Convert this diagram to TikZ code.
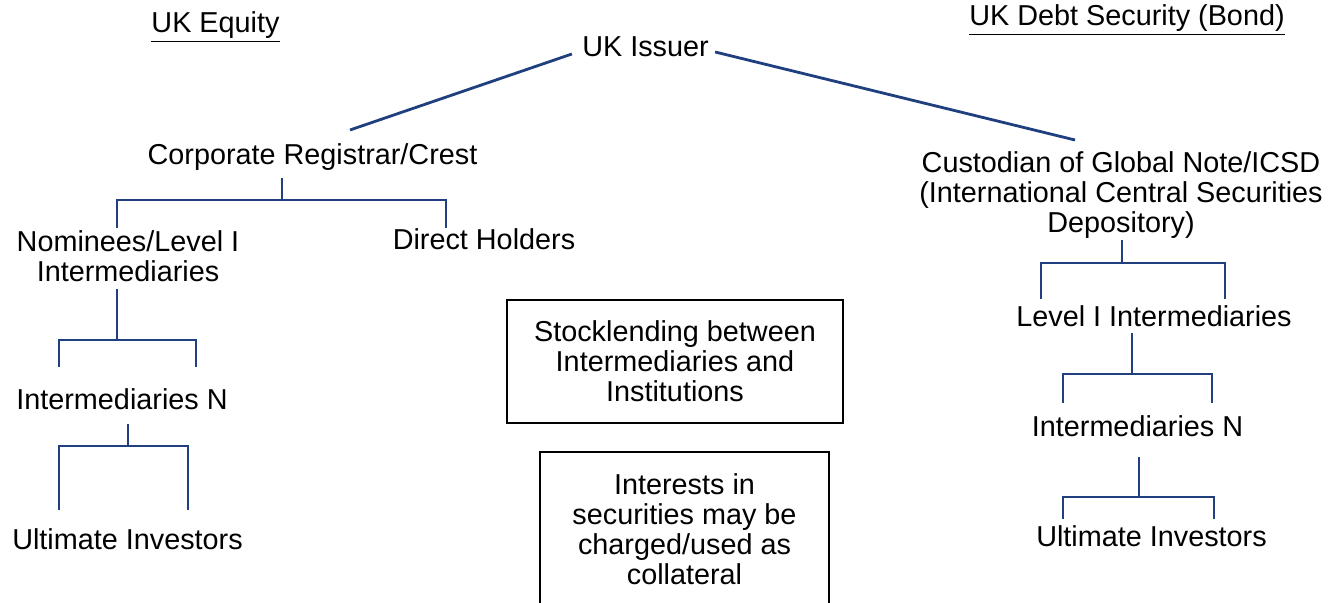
\documentclass[tikz,border=0pt]{standalone}
\usepackage{fontspec}
\setmainfont{Liberation Sans}
\definecolor{linkblue}{HTML}{1F3F7F}

\begin{document}
\begin{tikzpicture}[x=0.5pt,y=-0.5pt,
    label/.style={font=\fontsize{14.4}{15}\selectfont, align=center, inner sep=0pt},
    title/.style={label, anchor=base},
    info/.style={label, draw, line width=0.7pt},
    link/.style={draw=linkblue, line width=1.4pt}]

    \clip (0,0) rectangle (1328,603);

    % headings and issuer
    \node[title] (equity) at (215.5,33) {\underline{UK Equity}};
    \node[title] (bond) at (1127,26) {\underline{UK Debt Security (Bond)}};
    \node[title] (issuer) at (645.5,57) {UK Issuer};

    % equity side
    \node[title] (registrar) at (312.5,165) {Corporate Registrar/Crest};
    \node[label] (nominees) at (128,256) {Nominees/Level I\\Intermediaries};
    \node[title] (direct) at (484,250) {Direct Holders};
    \node[title] (intleft) at (122,410) {Intermediaries N};
    \node[title] (ultleft) at (127.5,550) {Ultimate Investors};

    % middle boxes
    \node[info, minimum width=168pt, minimum height=61.5pt] (lending) at (675,361.5)
        {Stocklending between\\Intermediaries and\\Institutions};
    \node[info, minimum width=144.5pt, minimum height=77pt] (collateral) at (684.5,529)
        {Interests in\\securities may be\\charged/used as\\collateral};

    % bond side
    \node[label] (custodian) at (1121,195.5)
        {Custodian of Global Note/ICSD\\(International Central Securities\\Depository)};
    \node[title] (levelone) at (1154,327) {Level I Intermediaries};
    \node[title] (intright) at (1137.5,437) {Intermediaries N};
    \node[title] (ultright) at (1151.5,547) {Ultimate Investors};

    % free ends of the connectors
    \coordinate (regtop) at (350,130);
    \coordinate (custtop) at (1075,140);
    \coordinate (regstem) at (282,178);
    \coordinate (nomleg) at (117,228);
    \coordinate (dirleg) at (446,228);
    \coordinate (nomstem) at (117,289);
    \coordinate (nomlegl) at (59,367);
    \coordinate (nomlegr) at (196,367);
    \coordinate (ilstem) at (128,424);
    \coordinate (illegl) at (59,510);
    \coordinate (illegr) at (188,510);
    \coordinate (custstem) at (1122,240);
    \coordinate (custlegl) at (1041,299);
    \coordinate (custlegr) at (1225,299);
    \coordinate (lostem) at (1132,333);
    \coordinate (lolegl) at (1063,403);
    \coordinate (lolegr) at (1212,403);
    \coordinate (irstem) at (1139,457);
    \coordinate (irlegl) at (1063,519);
    \coordinate (irlegr) at (1214,519);

    % connectors
    \draw[link] ([xshift=-5pt,yshift=1.5pt]issuer.base west) -- (regtop);
    \draw[link] ([xshift=3pt,yshift=2.5pt]issuer.base east) -- (custtop);
    \draw[link] (regstem) -- ++(0,22) -| (nomleg) (regstem) ++(0,22) -| (dirleg);
    \draw[link] (nomstem) -- ++(0,51) -| (nomlegl) (nomstem) ++(0,51) -| (nomlegr);
    \draw[link] (ilstem) -- ++(0,22) -| (illegl) (ilstem) ++(0,22) -| (illegr);
    \draw[link] (custstem) -- ++(0,23) -| (custlegl) (custstem) ++(0,23) -| (custlegr);
    \draw[link] (lostem) -- ++(0,41) -| (lolegl) (lostem) ++(0,41) -| (lolegr);
    \draw[link] (irstem) -- ++(0,40) -| (irlegl) (irstem) ++(0,40) -| (irlegr);
\end{tikzpicture}
\end{document}
